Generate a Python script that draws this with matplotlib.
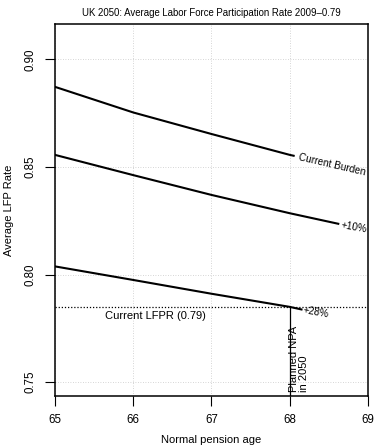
import numpy as np
import matplotlib
matplotlib.use("Agg")
import matplotlib.pyplot as plt

plt.rcParams['font.family'] = ['Liberation Sans', 'DejaVu Sans']

# curve values
x_burden = [65, 66, 67, 68, 68.05]
y_burden = [0.8872, 0.8753, 0.8653, 0.8556, 0.8552]

x_plus10 = [65, 66, 67, 68, 68.62]
y_plus10 = [0.8556, 0.8462, 0.8370, 0.8285, 0.8236]

x_plus28 = [65, 66, 67, 68, 68.15]
y_plus28 = [0.8038, 0.7975, 0.7911, 0.7850, 0.7838]

curve_labels = ["Current Burden", "+10%", "+28%"]
current_lfpr = 0.785
planned_npa = 68

xticks = [65, 66, 67, 68, 69]
yticks = [0.75, 0.80, 0.85, 0.90]

fig = plt.figure(figsize=(3.76, 4.46), dpi=100)
ax = fig.add_axes([0.1463, 0.1121, 0.8324, 0.8341])

# grid first, underneath everything
for xt in xticks:
    ax.axvline(xt, color="#c8c8c8", lw=0.6, ls=(0, (1, 2)), zorder=0)
for yt in yticks:
    ax.axhline(yt, color="#c8c8c8", lw=0.6, ls=(0, (1, 2)), zorder=0)

ax.plot(x_burden, y_burden, color="black", lw=1.5)
ax.plot(x_plus10, y_plus10, color="black", lw=1.5)
ax.plot(x_plus28, y_plus28, color="black", lw=1.5)

# curve end labels
ax.text(68.12, 0.8545, curve_labels[0], rotation=-13, rotation_mode="anchor",
        ha="left", va="center", fontsize=7.2)
ax.text(68.66, 0.8232, curve_labels[1], rotation=-10, rotation_mode="anchor",
        ha="left", va="center", fontsize=7.2)
ax.text(68.17, 0.7836, curve_labels[2], rotation=-10, rotation_mode="anchor",
        ha="left", va="center", fontsize=7.2)

# current LFPR reference line
ax.axhline(current_lfpr, color="black", lw=0.9, ls=(0, (1, 1.5)))
ax.text(66.28, 0.7806, "Current LFPR (0.79)", ha="center", va="center", fontsize=8)

# planned NPA marker
ax.plot([planned_npa, planned_npa], [0.7436, current_lfpr], color="black", lw=0.9)
ax.text(planned_npa - 0.01, 0.7454, "Planned NPA\nin 2050", rotation=90,
        ha="left", va="bottom", multialignment="left", fontsize=8, linespacing=1.0)

ax.set_xlim(65, 69)
ax.set_ylim(0.7436, 0.9164)
ax.set_xticks(xticks)
ax.set_yticks(yticks)
ax.set_yticklabels(["0.75", "0.80", "0.85", "0.90"], rotation=90, va="center")
ax.tick_params(axis="both", length=7, width=0.8, labelsize=8.3, pad=6, direction="out")
for s in ax.spines.values():
    s.set_linewidth(1.1)

ax.set_ylabel("Average LFP Rate", fontsize=8, labelpad=8)
fig.text(0.5625, 0.002, "Normal pension age", ha="center", va="bottom", fontsize=8)
fig.text(0.5625, 0.971, "UK 2050: Average Labor Force Participation Rate 2009\u20130.79",
         ha="center", va="center", fontsize=6.9)

fig.savefig("out.png", dpi=100)
